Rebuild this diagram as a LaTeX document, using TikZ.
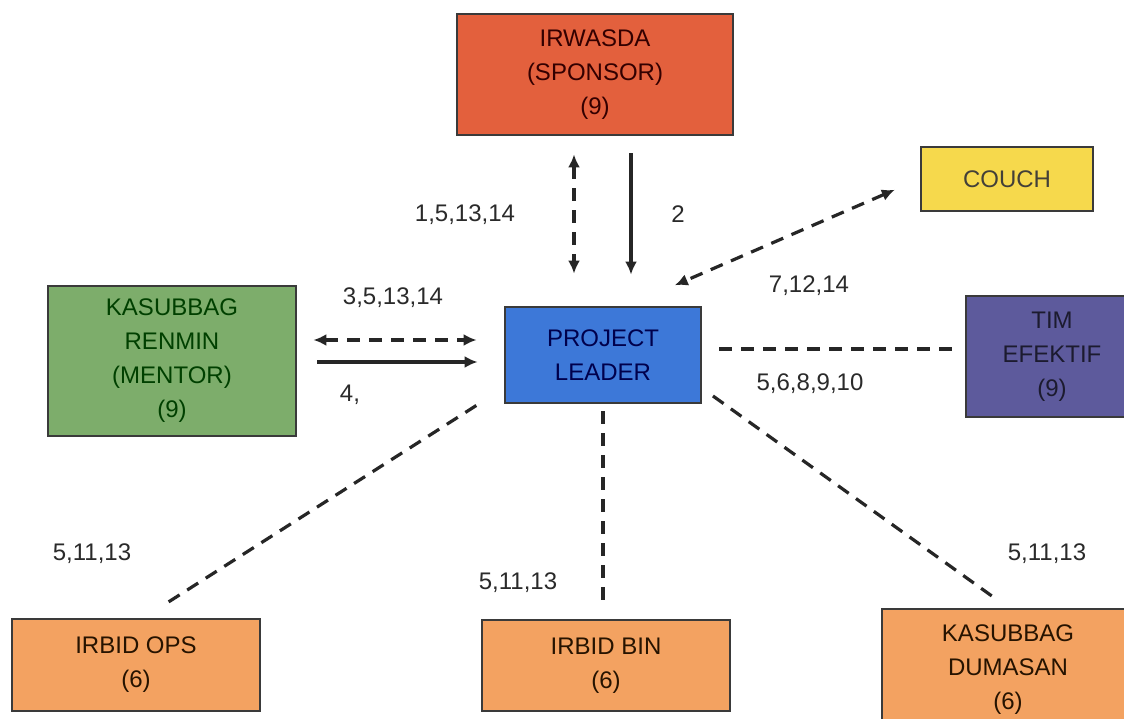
\documentclass[tikz,border=0pt]{standalone}
\usepackage{fontspec}
\setmainfont{Liberation Sans}
\usetikzlibrary{arrows.meta,calc}
\definecolor{cRed}{HTML}{E3603D}
\definecolor{cYel}{HTML}{F6D94C}
\definecolor{cGrn}{HTML}{7DAD6B}
\definecolor{cBlu}{HTML}{3D78D8}
\definecolor{cPur}{HTML}{5D5A9C}
\definecolor{cOrg}{HTML}{F3A261}
\definecolor{cEdge}{HTML}{3A3A3A}
\definecolor{cLbl}{HTML}{2A2A2A}
\tikzset{
  box/.style={draw=cEdge, line width=2.8pt, inner sep=0pt, align=center,
    font=\fontsize{24}{34}\selectfont},
  lbl/.style={anchor=base, text=cLbl, font=\fontsize{24}{28}\selectfont, inner sep=0pt},
  conn/.style={line width=3.2pt, draw=black!85},
  dconn/.style={conn, dash pattern=on 13pt off 9pt},
  tip/.style={-{Latex[length=13pt,width=12pt]}},
  dtip/.style={{Latex[length=13pt,width=12pt]}-{Latex[length=13pt,width=12pt]}},
}
\begin{document}
\begin{tikzpicture}[x=1pt,y=-1pt]
\useasboundingbox (0,0) rectangle (1124,719);
\fill[white] (0,0) rectangle (1124,719);

% boxes
\node[box, fill=cRed, text=black!80!red, minimum width=276pt, minimum height=121pt] (irw) at (595,74.5) {IRWASDA\\(SPONSOR)\\(9)};
\node[box, fill=cYel, text=black!85!yellow, minimum width=172pt, minimum height=64pt] (couch) at (1007,179) {COUCH};
\node[box, fill=cGrn, text=black!75!green, minimum width=248pt, minimum height=150pt] (ren) at (172,361) {KASUBBAG\\RENMIN\\(MENTOR)\\(9)};
\node[box, fill=cBlu, text=black!70!blue, minimum width=196pt, minimum height=96pt] (pl) at (603,355) {PROJECT\\LEADER};
\node[box, fill=cPur, text=black!70!cPur, minimum width=172pt, minimum height=121pt] (tim) at (1052,356.5) {TIM\\EFEKTIF\\(9)};
\node[box, fill=cOrg, text=black!85!orange, minimum width=248pt, minimum height=92pt] (ops) at (136,665) {IRBID OPS\\(6)};
\node[box, fill=cOrg, text=black!85!orange, minimum width=248pt, minimum height=91pt] (bin) at (606,665.5) {IRBID BIN\\(6)};
\node[box, fill=cOrg, text=black!85!orange, minimum width=252pt, minimum height=122pt] (dum) at (1008,670) {KASUBBAG\\DUMASAN\\(6)};

% helper coordinates for straight runs
\coordinate (v1) at (574,0);
\coordinate (v2) at (631,0);
\coordinate (h1) at (0,340);
\coordinate (h2) at (0,362);
\coordinate (h3) at (0,349);

% connectors
\draw[dconn, dtip, shorten <=18pt, shorten >=32pt] (irw.south -| v1) -- (pl.north -| v1);
\draw[conn, tip, shorten <=17pt, shorten >=31pt] (irw.south -| v2) -- (pl.north -| v2);
\draw[dconn, dtip, shorten <=27pt, shorten >=51pt] (couch.west) -- ($(pl.north)+(25,0)$);
\draw[dconn, dtip, shorten <=16pt, shorten >=27pt] (ren.east |- h1) -- (pl.west |- h1);
\draw[conn, tip, shorten <=20pt, shorten >=26pt] (ren.east |- h2) -- (pl.west |- h2);
\draw[dconn, shorten <=17pt, shorten >=7pt] (pl.east |- h3) -- (tim.west |- h3);
\draw[dconn, shorten <=2pt, shorten >=22pt] ($(pl.south)+(-125,0)$) -- ($(ops.north)+(8,0)$);
\draw[dconn, shorten <=7pt, shorten >=12pt] (pl.south) -- (pl.south |- bin.north);
\draw[dconn, shorten <=13pt, shorten >=12pt] ($(pl.south east)+(0,-16)$) -- (dum.north);

% labels
\node[lbl] (l1) at (465,222) {1,5,13,14};
\node[lbl] (l2) at (678,223) {2};
\node[lbl] (l3) at (809,292) {7,12,14};
\node[lbl] (l4) at (393,305) {3,5,13,14};
\node[lbl] (l5) at (350,401) {4,};
\node[lbl] (l6) at (810,390) {5,6,8,9,10};
\node[lbl] (l7) at (92,560) {5,11,13};
\node[lbl] (l8) at (518,589) {5,11,13};
\node[lbl] (l9) at (1047,560) {5,11,13};
\end{tikzpicture}
\end{document}
